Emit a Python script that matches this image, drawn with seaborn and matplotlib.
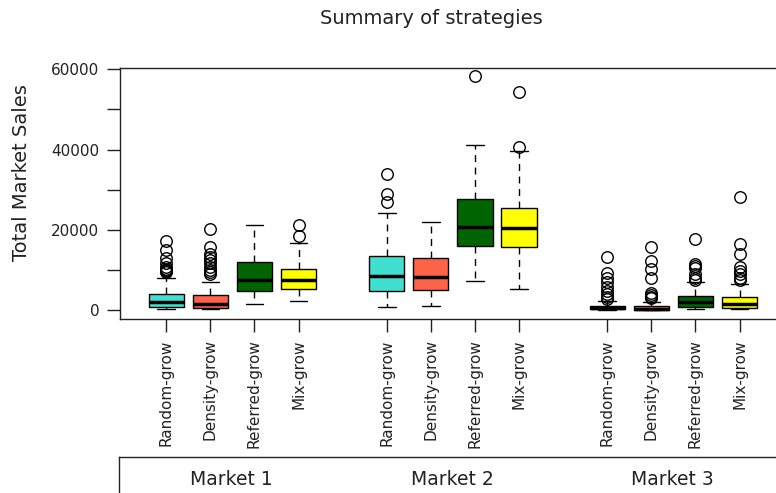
import numpy as np
import pandas as pd
import matplotlib
matplotlib.use("Agg")
import matplotlib.pyplot as plt
import seaborn as sns

markets = ["Market 1", "Market 2", "Market 3"]
strategies = ["Random-grow", "Density-grow", "Referred-grow", "Mix-grow"]
colors = ["turquoise", "tomato", "darkgreen", "yellow"]

# Five-number summaries per market (rows) and strategy (columns)
whisker_low = [[200, 150, 1600, 2300],
               [700, 900, 7200, 5200],
               [0, 0, 300, 200]]
q1 = [[650, 500, 4800, 5150],
      [4800, 5000, 16000, 15600],
      [150, 100, 700, 600]]
median = [[1900, 1600, 7450, 7450],
          [8500, 8200, 20800, 20500],
          [400, 300, 1900, 1500]]
q3 = [[3950, 3750, 11900, 10300],
      [13500, 12900, 27600, 25400],
      [1000, 900, 3400, 3300]]
whisker_high = [[7900, 7100, 21100, 16800],
                [24100, 22000, 41100, 39600],
                [2200, 2000, 6900, 6600]]

# Outlying runs beyond 1.5 IQR
outliers = [
    [[17200, 15000, 12900, 11600, 10800, 10300, 9900, 9600, 9400],
     [20100, 15600, 14000, 13200, 12500, 11600, 10800, 10000, 9400, 8900],
     [],
     [21200, 18350]],
    [[34000, 28900, 27000],
     [],
     [58300],
     [54400, 40700]],
    [[13100, 9300, 8000, 6900, 5800, 4800, 4000, 3300, 2700],
     [15800, 12300, 10300, 7900, 4300, 3700, 3300, 2900],
     [17700, 11500, 11000, 10400, 9000, 8000, 7600],
     [28100, 16500, 13900, 10700, 9700, 8900, 8100, 7500]],
]

# Build one sample per box whose quartiles, whiskers and outliers give the summaries above
rows = []
positions = []
for m, market in enumerate(markets):
    for s, strat in enumerate(strategies):
        pos = 1 + 5 * m + s
        positions.append(pos)
        outs = outliers[m][s]
        k = len(outs) + 1
        vals = ([whisker_low[m][s]] + [q1[m][s]] * k + [median[m][s]] * k
                + [q3[m][s]] * k + [whisker_high[m][s]] + list(outs))
        for v in vals:
            rows.append({"market": market, "strategy": strat, "pos": pos, "sales": v})
df = pd.DataFrame(rows)

sns.set_style("white")
plt.rcParams["font.family"] = ["DejaVu Sans"]

W, H = 776, 493
fig = plt.figure(figsize=(W / 100, H / 100), dpi=100)

left, top, bottom = 119.5, 67.7, 319.3
xmin, xmax = -0.06, 15.06
ppu = 44.1
ax = fig.add_axes([left / W, 1 - bottom / H, (xmax - xmin) * ppu / W, (bottom - top) / H])

sns.boxplot(
    data=df, x="pos", y="sales", hue="strategy",
    palette=dict(zip(strategies, colors)), hue_order=strategies,
    native_scale=True, dodge=False, width=0.8, saturation=1,
    linecolor="black", linewidth=1.0, whis=1.5, fliersize=8.3,
    flierprops=dict(marker="o", markerfacecolor="none",
                    markeredgecolor="black", markeredgewidth=1.0),
    medianprops=dict(linewidth=2.5, color="black"),
    whiskerprops=dict(linestyle=(0, (5, 4)), linewidth=1.0, color="black"),
    capprops=dict(linewidth=1.0, color="black"),
    legend=False, ax=ax,
)

ax.set_xlim(xmin, xmax)
ax.set_ylim(-2320, 60400)
ax.set_xticks(positions)
ax.set_xticklabels(strategies * 3, rotation=90, fontsize=11)
ax.set_yticks([0, 20000, 40000, 60000])
ax.set_yticklabels(["0", "20000", "40000", "60000"], fontsize=11)
ax.set_yticks([10000, 30000, 50000], minor=True)
ax.tick_params(axis="both", which="both", direction="out", length=9.5,
               width=1.0, color="#222222", pad=5, labelcolor="#222222")
ax.tick_params(axis="x", which="both", bottom=True)
ax.tick_params(axis="y", which="both", left=True)
ax.set_xlabel("")
ax.set_ylabel("")
for sp in ax.spines.values():
    sp.set_visible(True)
    sp.set_color("#222222")
    sp.set_linewidth(1.0)

fig.text(22 / W, 1 - 173 / H, "Total Market Sales", rotation=90,
         ha="center", va="center", fontsize=14, color="#222222")
fig.text(431 / W, 1 - 18 / H, "Summary of strategies",
         ha="center", va="center", fontsize=14, color="#222222")

# Market strip beneath the strategy labels
strip_top = 456.5
strip_bottom = H + 30
ax2 = fig.add_axes([118.5 / W, 1 - strip_bottom / H,
                    (xmax - xmin) * ppu / W, (strip_bottom - strip_top) / H])
ax2.set_xlim(xmin, xmax)
ax2.set_ylim(strip_bottom, strip_top)
ax2.set_xticks([])
ax2.set_yticks([])
for sp in ax2.spines.values():
    sp.set_color("#222222")
    sp.set_linewidth(1.0)
for m, market in enumerate(markets):
    center = np.mean(positions[4 * m:4 * m + 4])
    ax2.text(center, 485, market,
             ha="center", va="baseline", fontsize=13.5, color="#222222")

fig.savefig("out.png", dpi=100)
